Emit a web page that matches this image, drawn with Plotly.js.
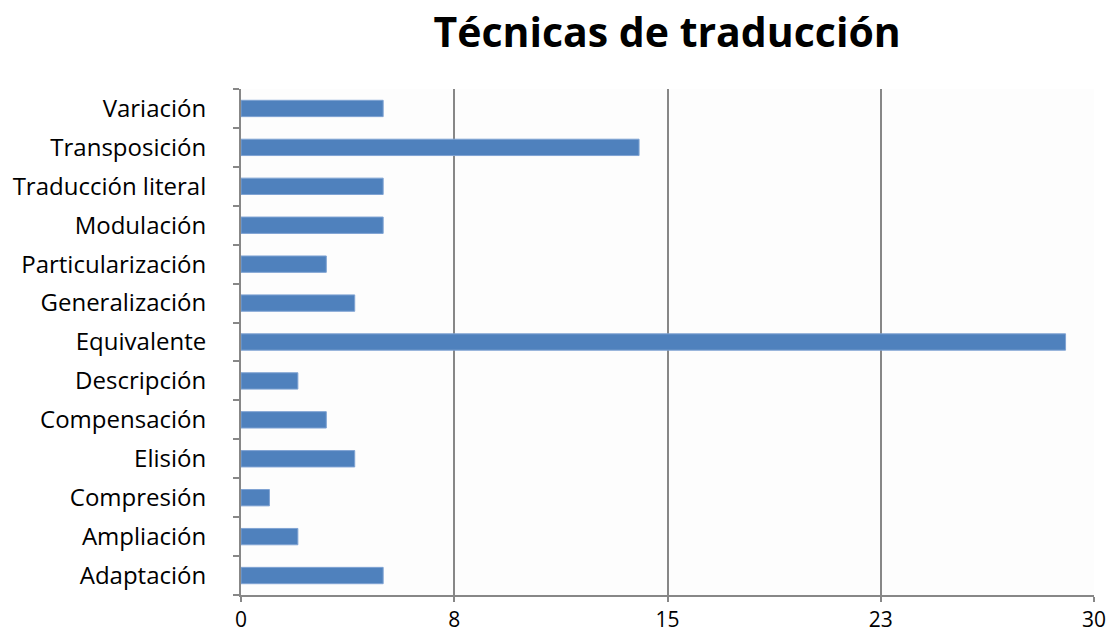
<!DOCTYPE html>
<html>
<head>
<meta charset="utf-8">
<script src="https://cdn.plot.ly/plotly-3.0.1.min.js"></script>
<style>html,body{margin:0;padding:0;background:#fff;}#chart{width:1110px;height:635px;}</style>
</head>
<body>
<div id="chart"></div>
<script>
const categories = ["Adaptación","Ampliación","Compresión","Elisión","Compensación","Descripción","Equivalente","Generalización","Particularización","Modulación","Traducción literal","Transposición","Variación"];
const values = [5,2,1,4,3,2,29,4,3,5,5,14,5];
const xTickVals = [0,7.5,15,22.5,30];
const xTickText = ["0","8","15","23","30"];

const trace = {
  type: "bar",
  orientation: "h",
  y: categories,
  x: values,
  width: 0.42,
  marker: {color: "#4F81BD", line: {color: "#7FA3D3", width: 1}},
  hoverinfo: "x+y"
};

const layout = {
  width: 1110, height: 635,
  margin: {l: 241, r: 16, t: 89, b: 40},
  paper_bgcolor: "#ffffff",
  plot_bgcolor: "#fdfdfd",
  showlegend: false,
  title: {text: "<b>Técnicas de traducción</b>", font: {family: "Open Sans, sans-serif", size: 41, color: "#000"}, x: 0.601, xanchor: "center", y: 0.948, yanchor: "middle"},
  xaxis: {
    range: [0, 30], tickvals: xTickVals, ticktext: xTickText,
    showgrid: true, gridcolor: "#878787", gridwidth: 2,
    showline: true, linecolor: "#878787", linewidth: 2,
    ticks: "outside", ticklen: 5, tickcolor: "#878787", tickwidth: 2,
    zeroline: false,
    tickfont: {family: "Open Sans, sans-serif", size: 21, color: "#000"}
  },
  yaxis: {
    type: "category", categoryorder: "array", categoryarray: categories,
    range: [-0.5, 12.5],
    showgrid: false, showline: true, linecolor: "#878787", linewidth: 2,
    ticks: "outside", tickson: "boundaries", ticklen: 6, tickcolor: "#878787", tickwidth: 2,
    ticklabelstandoff: 28,
    tickfont: {family: "Open Sans, sans-serif", size: 24, color: "#000"}
  },
  bargap: 0.58
};

Plotly.newPlot("chart", [trace], layout, {displayModeBar: false, staticPlot: true});
</script>
</body>
</html>
